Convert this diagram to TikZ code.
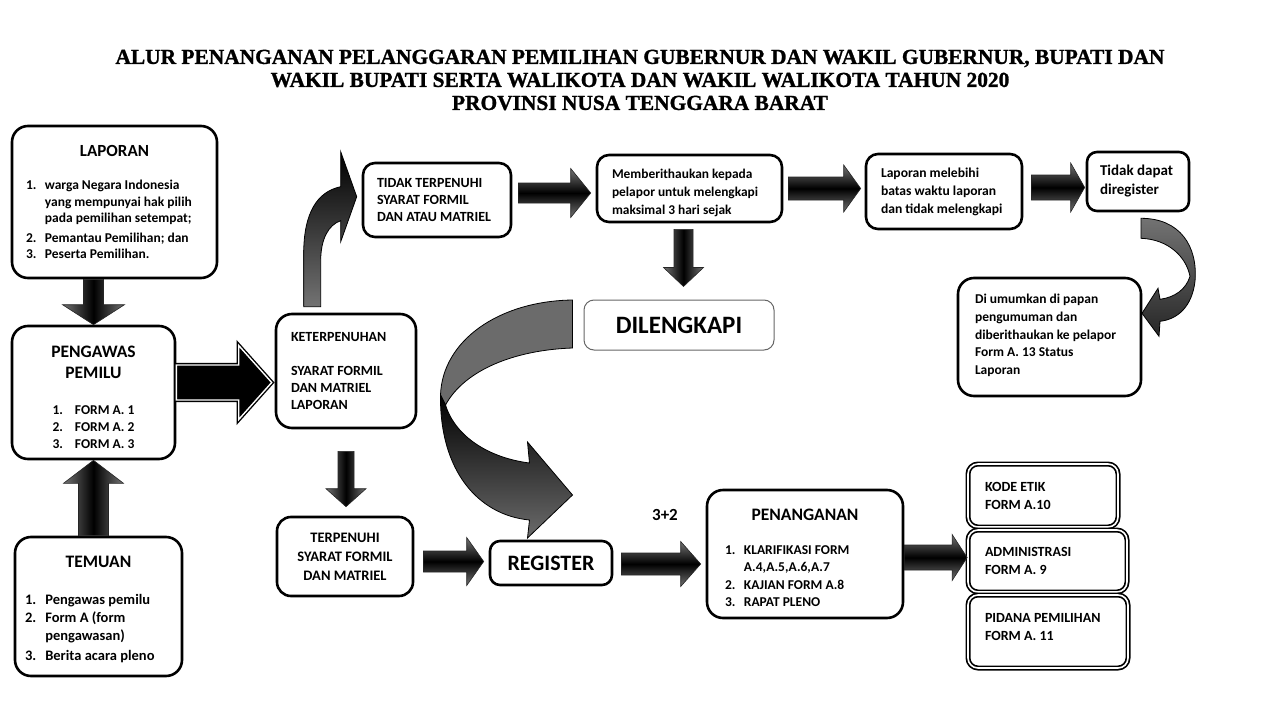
\documentclass[tikz,border=0pt]{standalone}
\usepackage{fontspec}
\setmainfont{Carlito}
\newfontfamily\titlefont[FakeBold=1.2]{Liberation Serif}
\usetikzlibrary{calc}
\frenchspacing
\tikzset{
box/.style={
  draw,
  line width=2.6pt,
  rounded corners=16pt,
  fill=white,
  inner sep=0pt,
  align=flush left,
  font=\bfseries\fontsize{14}{17}\selectfont
},
dbox/.style={box, line width=1.7pt, double, double distance=1.6pt, rounded corners=10pt},
hblock/.style={draw=black!85, line width=0.6pt, top color=black!55, bottom color=black!55, middle color=black},
vblock/.style={draw=black!85, line width=0.6pt, left color=black!55, right color=black!55, middle color=black},
bigblock/.style={fill=black, draw=black, line width=1.4pt, double=white, double distance=1.4pt},
ribbon/.style={draw=black, line width=0.8pt}
}
% numbered line with hanging indent
\newcommand{\numitem}[2]{\par\noindent\hangindent=1.4em\hangafter=1\makebox[1.4em][l]{#1}#2}
% block arrows: #1 style, #2 start, #3 tip, #4 half shaft, #5 half head, #6 head length
\newcommand{\rblock}[6]{%
  \path[#1] let \p1=(#2), \p2=(#3) in
    (\x1,\y1+#4pt) -- (\x2-#6pt,\y1+#4pt) -- (\x2-#6pt,\y1+#5pt) -- (\x2,\y1)
    -- (\x2-#6pt,\y1-#5pt) -- (\x2-#6pt,\y1-#4pt) -- (\x1,\y1-#4pt) -- cycle;}
\newcommand{\dblock}[6]{%
  \path[#1] let \p1=(#2), \p2=(#3) in
    (\x1-#4pt,\y1) -- (\x1-#4pt,\y2+#6pt) -- (\x1-#5pt,\y2+#6pt) -- (\x1,\y2)
    -- (\x1+#5pt,\y2+#6pt) -- (\x1+#4pt,\y2+#6pt) -- (\x1+#4pt,\y1) -- cycle;}
\newcommand{\ublock}[6]{%
  \path[#1] let \p1=(#2), \p2=(#3) in
    (\x1-#4pt,\y1) -- (\x1-#4pt,\y2-#6pt) -- (\x1-#5pt,\y2-#6pt) -- (\x1,\y2)
    -- (\x1+#5pt,\y2-#6pt) -- (\x1+#4pt,\y2-#6pt) -- (\x1+#4pt,\y1) -- cycle;}

\begin{document}
\begin{tikzpicture}[x=1pt, y=-1pt]
\useasboundingbox (0,0) rectangle (1280,720);
% the title
\node[font=\titlefont\bfseries\fontsize{21.4}{23}\selectfont, align=center] (judul) at (640,80)
  {ALUR PENANGANAN PELANGGARAN PEMILIHAN GUBERNUR DAN WAKIL GUBERNUR, BUPATI DAN\\
   WAKIL BUPATI SERTA WALIKOTA DAN WAKIL WALIKOTA TAHUN 2020\\
   PROVINSI NUSA TENGGARA BARAT};
% the boxes
\node[box, minimum width=205pt, minimum height=152pt, text width=177pt,
  font=\bfseries\fontsize{13.5}{16.5}\selectfont] (laporan) at (114.5,202)
  {{\centering\fontsize{17}{20}\selectfont LAPORAN\par}\vspace{17pt}
   \numitem{1.}{warga Negara Indonesia\newline yang mempunyai hak pilih\newline pada pemilihan setempat;}
   \vspace{3pt}\numitem{2.}{Pemantau Pemilihan; dan}
   \numitem{3.}{Peserta Pemilihan.}};
\node[box, minimum width=163pt, minimum height=133pt, text width=140pt, align=flush center,
  font=\bfseries\fontsize{13.5}{17}\selectfont] (pengawas) at (93.5,392.5)
  {{\fontsize{17.5}{21}\selectfont\rule{0pt}{26pt}PENGAWAS\\PEMILU\par}\vspace{23pt}
   \begin{tabular}{@{}l@{\hspace{12pt}}l@{}}1.&FORM A. 1\\2.&FORM A. 2\\3.&FORM A. 3\end{tabular}};
\node[box, minimum width=167pt, minimum height=139pt, text width=147pt,
  font=\bfseries\fontsize{14.5}{18}\selectfont] (temuan) at (98.5,606.5)
  {{\centering\fontsize{17.5}{21}\selectfont\rule{0pt}{16.5pt}TEMUAN\par}\vspace{19pt}
   \numitem{1.}{Pengawas pemilu}
   \numitem{2.}{Form A (form\newline pengawasan)}
   \vspace{2pt}\numitem{3.}{Berita acara pleno}};
\node[box, minimum width=140pt, minimum height=114pt, text width=110pt] (keter) at (346,371)
  {KETERPENUHAN\\[17pt]SYARAT FORMIL\\DAN MATRIEL\\LAPORAN};
\node[box, minimum width=148pt, minimum height=74pt, text width=120pt, rounded corners=12pt] (tidak) at (437,200)
  {TIDAK TERPENUHI\\SYARAT FORMIL\\DAN ATAU MATRIEL};
\node[box, minimum width=185pt, minimum height=67pt, text width=155pt, rounded corners=12pt,
  font=\bfseries\fontsize{13.4}{18}\selectfont] (beri) at (689.5,188.5)
  {\rule{0pt}{18pt}Memberithaukan kepada\\pelapor untuk melengkapi\\maksimal 3 hari sejak};
\node[box, draw=black!60, line width=1pt, minimum width=190pt, minimum height=50pt, rounded corners=10pt,
  align=center, font=\bfseries\fontsize{25}{30}\selectfont] (dilengkapi) at (679,325) {DILENGKAPI};
\node[box, minimum width=156pt, minimum height=75pt, text width=126pt, rounded corners=12pt,
  font=\bfseries\fontsize{13.6}{18}\selectfont] (lebih) at (944,191.5)
  {Laporan melebihi\\batas waktu laporan\\dan tidak melengkapi};
\node[box, minimum width=102pt, minimum height=59pt, text width=76pt, rounded corners=10pt,
  font=\bfseries\fontsize{15}{19}\selectfont] (tidakdapat) at (1138,181.5) {Tidak dapat\\diregister};
\node[box, minimum width=183pt, minimum height=118pt, text width=149pt,
  font=\bfseries\fontsize{13.5}{17.8}\selectfont] (umum) at (1049.5,337)
  {Di umumkan di papan\\pengumuman dan\\diberithaukan ke pelapor\\Form A. 13 Status\\Laporan\vspace{3pt}};
\node[box, minimum width=136pt, minimum height=79pt, text width=120pt, align=flush center, rounded corners=14pt,
  font=\bfseries\fontsize{14.5}{19}\selectfont] (terpenuhi) at (345,556.5)
  {TERPENUHI\\SYARAT FORMIL\\DAN MATRIEL};
\node[box, minimum width=122pt, minimum height=44pt, align=center, rounded corners=10pt,
  font=\bfseries\fontsize{22}{26}\selectfont] (register) at (551,563) {REGISTER};
\node[box, minimum width=196pt, minimum height=128pt, text width=160pt,
  font=\bfseries\fontsize{13.5}{17.5}\selectfont] (penanganan) at (805,554)
  {{\centering\fontsize{17.5}{21}\selectfont\rule{0pt}{19.5pt}PENANGANAN\par}\vspace{16pt}
   \numitem{1.}{KLARIFIKASI FORM\newline A.4,A.5,A.6,A.7}
   \numitem{2.}{KAJIAN FORM A.8}
   \numitem{3.}{RAPAT PLENO}};
\node[dbox, minimum width=150pt, minimum height=63pt, text width=116pt,
  font=\bfseries\fontsize{14}{18}\selectfont] (kode) at (1043,495.5) {KODE ETIK\\FORM A.10};
\node[dbox, minimum width=159pt, minimum height=62pt, text width=125pt,
  font=\bfseries\fontsize{14}{18}\selectfont] (admin) at (1047.5,561) {ADMINISTRASI\\FORM A. 9};
\node[dbox, minimum width=160pt, minimum height=73pt, text width=126pt,
  font=\bfseries\fontsize{14}{18}\selectfont] (pidana) at (1048,631.5) {PIDANA PEMILIHAN\\FORM A. 11\vspace{9pt}};
\node[font=\bfseries\fontsize{17}{20}\selectfont] (tigadua) at (665,515) {3+2};
% the arrows
\dblock{vblock}{pengawas.north |- laporan.south}{pengawas.north}{10}{31}{20}
\ublock{vblock}{pengawas.south |- temuan.north}{pengawas.south}{15}{30}{23}
\rblock{bigblock}{[yshift=10pt]pengawas.east}{[xshift=-3pt]keter.west}{17.5}{37}{33}
\dblock{vblock}{[yshift=-22pt]keter.south}{[yshift=9pt]terpenuhi.north}{8}{20}{18}
\rblock{hblock}{[shift={(6pt,7pt)}]tidak.east}{[xshift=-5pt]beri.west}{10}{24.5}{20}
\dblock{vblock}{[shift={(-6pt,-6pt)}]beri.south}{[yshift=13pt]dilengkapi.north}{9.5}{20}{19}
\rblock{hblock}{[xshift=5pt]beri.east}{[xshift=-4pt]lebih.west}{11.5}{23.5}{17}
\rblock{hblock}{[shift={(8pt,4pt)}]lebih.east}{[xshift=-1pt]tidakdapat.west}{12.5}{24.5}{14}
\rblock{hblock}{[shift={(9pt,-5pt)}]terpenuhi.east}{[xshift=-5pt]register.west}{10.5}{24}{17}
\rblock{hblock}{[shift={(8pt,-1pt)}]register.east}{[xshift=-5pt]penanganan.west}{11}{22.5}{20}
\rblock{hblock}{[yshift=-3.5pt]penanganan.east}{admin.west}{12.5}{23}{15}
% the curved arrows
\begin{scope}[shift={(keter.north west)}]
\path[ribbon, top color=black, bottom color=black!55]
  (29,-6) -- (29,-59) .. controls (29,-99) and (42,-121) .. (66,-126) -- (66,-161) -- (82,-116)
  -- (66,-71) -- (66,-92) .. controls (54,-88) and (46,-74) .. (46,-52) -- (46,-6) -- cycle;
\end{scope}
\begin{scope}[shift={(tidakdapat.south)}]
\path[ribbon, top color=black!55, bottom color=black!85]
  (3,6) .. controls (42,6) and (60,34) .. (57,69) .. controls (54,94) and (40,107) .. (22,109)
  -- (21,124) -- (4,101) -- (20,76) -- (22,87) .. controls (37,85) and (48,77) .. (52,64)
  .. controls (48,44) and (30,27) .. (3,26) -- cycle;
\end{scope}
\begin{scope}[shift={(dilengkapi.west)}]
\path[ribbon, fill=black!58]
  (-11,-25) .. controls (-84,-24) and (-141,15) .. (-143,70) -- (-138,80)
  .. controls (-119,45) and (-69,25) .. (-11,23) -- cycle;
\path[ribbon, top color=black, bottom color=black!58]
  (-143,70) .. controls (-144,145) and (-106,190) .. (-54,195) -- (-56,213) -- (-11,170)
  -- (-56,117) -- (-54,138) .. controls (-94,133) and (-128,112) .. (-138,80) -- cycle;
\end{scope}
\end{tikzpicture}
\end{document}
